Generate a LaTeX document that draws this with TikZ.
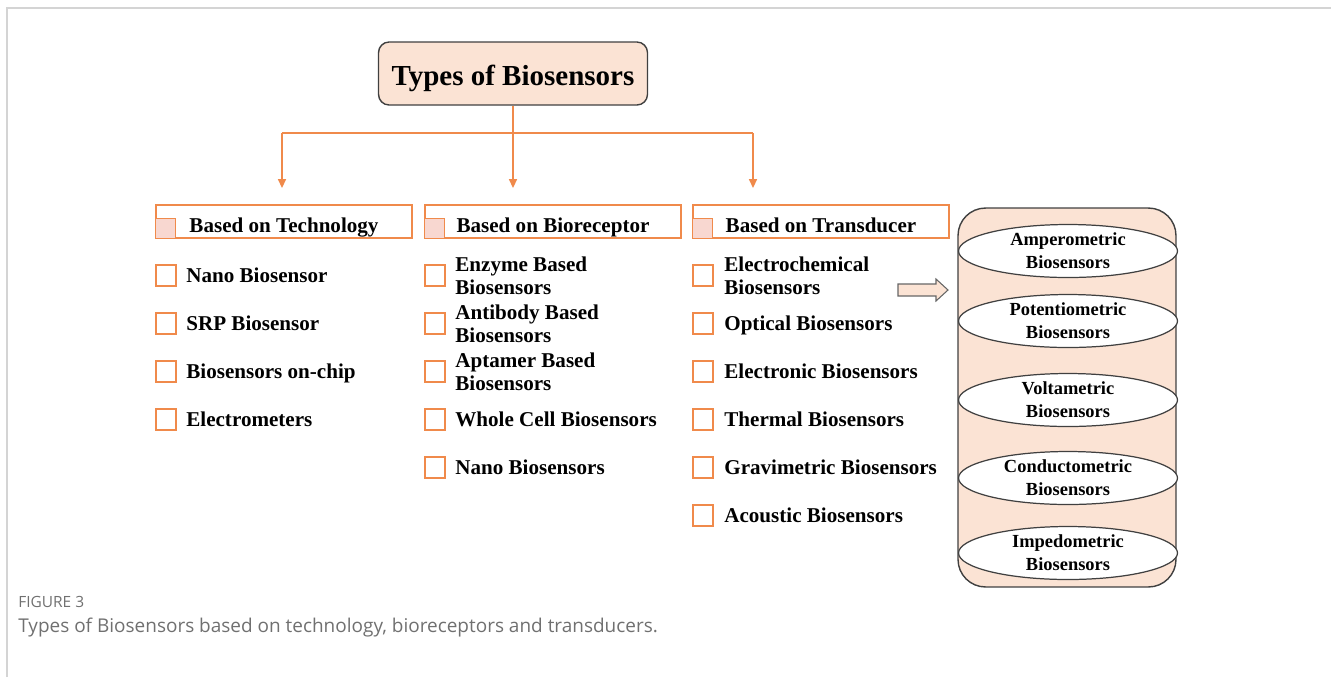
\documentclass[tikz,border=0pt]{standalone}
\usepackage{fontspec}
\setmainfont{Liberation Serif}
\newfontfamily\capfont{Open Sans}
\usetikzlibrary{arrows.meta,shapes.geometric}

\definecolor{boxorange}{HTML}{F08A4B}
\definecolor{peach}{HTML}{FBE3D4}
\definecolor{pinkfill}{HTML}{F8D7D0}
\definecolor{framegray}{HTML}{D4D4D4}
\definecolor{captiongray}{HTML}{707070}

\tikzset{
  titlebox/.style={draw=black!75, fill=peach, line width=0.8pt, rounded corners=6pt, minimum width=5.38cm, minimum height=1.26cm, text height=0.46cm, text depth=0pt, font=\fontsize{16.5}{19}\selectfont\bfseries},
  headbox/.style={draw=boxorange, line width=0.8pt, minimum width=5.12cm, minimum height=0.66cm, inner sep=0pt, text height=0.42cm, text depth=0pt, font=\fontsize{12}{14}\selectfont\bfseries},
  tickbox/.style={draw=boxorange, line width=0.8pt, minimum width=0.4cm, minimum height=0.42cm, inner sep=0pt},
  itemtext/.style={anchor=base west, inner sep=0pt, font=\fontsize{12}{13}\selectfont\bfseries},
  itemtwo/.style={anchor=west, align=left, inner sep=0pt, font=\fontsize{12}{13}\selectfont\bfseries},
  branch/.style={draw=boxorange, line width=0.9pt},
  layer/.style={ellipse, draw=black!75, fill=white, line width=0.7pt, minimum width=4.38cm, minimum height=1.06cm, inner sep=0pt, align=center, font=\fontsize{10.5}{13}\selectfont\bfseries},
}

\begin{document}
\begin{tikzpicture}[x=0.02cm, y=-0.02cm]
\useasboundingbox (0,0) rectangle (1331,677);

% Frame of the figure
\draw[framegray, line width=1.2pt] (7,677) -- (7,8) -- (1331,8);

% Title and the three branches
\node[titlebox] (title) at (513,73.5) {Types of Biosensors};
\coordinate (split) at (513,133);
\coordinate (a1) at (282,188);
\coordinate (a2) at (513,188);
\coordinate (a3) at (753,188);
\draw[branch] (title.south) -- (split);
\draw[branch] (a1 |- split) -- (a3 |- split);
\draw[branch, -{Triangle[length=5pt,width=4.5pt]}] (a1 |- split) -- (a1);
\draw[branch, -{Triangle[length=5pt,width=4.5pt]}] (split) -- (a2);
\draw[branch, -{Triangle[length=5pt,width=4.5pt]}] (a3 |- split) -- (a3);

% Headers
\node[headbox] (tech) at (284,221.5) {Based on Technology};
\fill[pinkfill] (tech.south west) rectangle +(20,-20);
\draw[boxorange, line width=0.8pt] (tech.south west) rectangle +(20,-20);
\node[headbox] (recep) at (553,221.5) {Based on Bioreceptor};
\fill[pinkfill] (recep.south west) rectangle +(20,-20);
\draw[boxorange, line width=0.8pt] (recep.south west) rectangle +(20,-20);
\node[headbox] (trans) at (821,221.5) {Based on Transducer};
\fill[pinkfill] (trans.south west) rectangle +(20,-20);
\draw[boxorange, line width=0.8pt] (trans.south west) rectangle +(20,-20);

% Based on technology
\node[tickbox] (t1box) at (166,275.5) {};
\node[itemtext] (t1) at (186,282) {Nano Biosensor};
\node[tickbox] (t2box) at (166,323.5) {};
\node[itemtext] (t2) at (186,330) {SRP Biosensor};
\node[tickbox] (t3box) at (166,371.5) {};
\node[itemtext] (t3) at (186,378) {Biosensors on-chip};
\node[tickbox] (t4box) at (166,419.5) {};
\node[itemtext] (t4) at (186,426) {Electrometers};

% Based on bioreceptor
\node[tickbox] (r1box) at (435,275.5) {};
\node[itemtwo] (r1) at (455,275.5) {Enzyme Based\\Biosensors};
\node[tickbox] (r2box) at (435,323.5) {};
\node[itemtwo] (r2) at (455,323.5) {Antibody Based\\Biosensors};
\node[tickbox] (r3box) at (435,371.5) {};
\node[itemtwo] (r3) at (455,371.5) {Aptamer Based\\Biosensors};
\node[tickbox] (r4box) at (435,419.5) {};
\node[itemtext] (r4) at (455,426) {Whole Cell Biosensors};
\node[tickbox] (r5box) at (435,467.5) {};
\node[itemtext] (r5) at (455,474) {Nano Biosensors};

% Based on transducer
\node[tickbox] (d1box) at (703,275.5) {};
\node[itemtwo] (d1) at (724,275.5) {Electrochemical\\Biosensors};
\node[tickbox] (d2box) at (703,323.5) {};
\node[itemtext] (d2) at (724,330) {Optical Biosensors};
\node[tickbox] (d3box) at (703,371.5) {};
\node[itemtext] (d3) at (724,378) {Electronic Biosensors};
\node[tickbox] (d4box) at (703,419.5) {};
\node[itemtext] (d4) at (724,426) {Thermal Biosensors};
\node[tickbox] (d5box) at (703,467.5) {};
\node[itemtext] (d5) at (724,474) {Gravimetric Biosensors};
\node[tickbox] (d6box) at (703,515.5) {};
\node[itemtext] (d6) at (724,522) {Acoustic Biosensors};

% Hollow arrow to the electrochemical stack
\draw[black!60, fill=peach, line width=0.6pt] (898,284) -- (936,284) -- (936,279) -- (948,290) -- (936,301) -- (936,296) -- (898,296) -- cycle;

% Electrochemical stack
\node[draw=black!75, fill=peach, line width=0.8pt, rounded corners=0.55cm, minimum width=4.36cm, minimum height=7.58cm] (stack) at (1067,397.5) {};
\node[layer] (amp) at (1068,251) {Amperometric\\Biosensors};
\node[layer] (pot) at (1068,321) {Potentiometric\\Biosensors};
\node[layer] (volt) at (1068,400) {Voltametric\\Biosensors};
\node[layer] (cond) at (1068,478) {Conductometric\\Biosensors};
\node[layer] (imp) at (1068,553) {Impedometric\\Biosensors};

% Caption
\node[anchor=west, inner sep=0pt, text=captiongray, font=\capfont\fontsize{8.8}{10}\selectfont] (figno) at (18,602) {FIGURE 3};
\node[anchor=west, inner sep=0pt, text=captiongray, font=\capfont\fontsize{10.8}{13}\selectfont] (caption) at (18,628) {Types of Biosensors based on technology, bioreceptors and transducers.};
\end{tikzpicture}
\end{document}
